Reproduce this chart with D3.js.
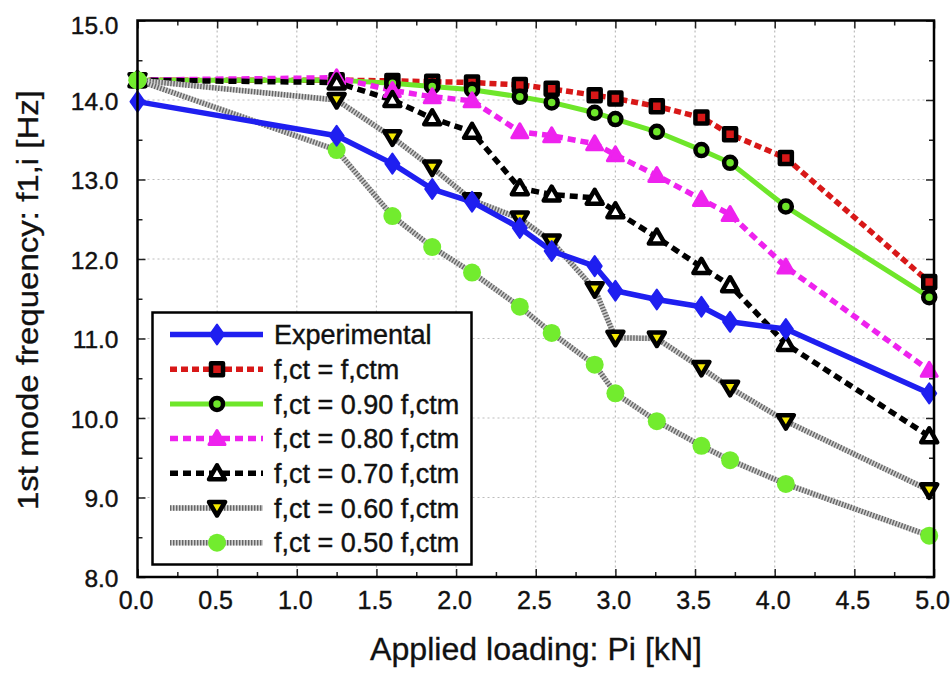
<!DOCTYPE html>
<html><head><meta charset="utf-8">
<script src="https://cdn.jsdelivr.net/npm/d3@7"></script>
<style>
html,body{margin:0;padding:0;background:#fff;}
svg{display:block;font-family:"Liberation Sans",Arial,Helvetica,sans-serif;}
</style></head>
<body>
<svg id="chart" width="952" height="673"></svg>
<script>
// ---- data ----
const loads = [0, 1.25, 1.6, 1.85, 2.1, 2.4, 2.6, 2.87, 3.0, 3.26, 3.54, 3.72, 4.07, 4.97];
const experimental = [13.98, 13.55, 13.2, 12.88, 12.72, 12.39, 12.1, 11.91, 11.6, 11.49, 11.4, 11.21, 11.12, 10.31];
const fct100 = [14.25, 14.25, 14.24, 14.23, 14.22, 14.19, 14.14, 14.06, 14.02, 13.92, 13.78, 13.57, 13.27, 11.71];
const fct090 = [14.25, 14.25, 14.21, 14.17, 14.13, 14.04, 13.97, 13.84, 13.76, 13.6, 13.37, 13.21, 12.66, 11.52];
const fct080 = [14.25, 14.28, 14.12, 14.04, 13.99, 13.6, 13.55, 13.45, 13.31, 13.05, 12.75, 12.56, 11.9, 10.6];
const fct070 = [14.25, 14.22, 14.0, 13.77, 13.6, 12.89, 12.81, 12.77, 12.6, 12.27, 11.9, 11.67, 10.93, 9.77];
const fct060 = [14.25, 14.0, 13.53, 13.15, 12.74, 12.51, 12.22, 11.62, 11.01, 11.0, 10.63, 10.38, 9.96, 9.09];
const fct050 = [14.25, 13.37, 12.54, 12.15, 11.83, 11.4, 11.07, 10.67, 10.31, 9.96, 9.65, 9.47, 9.17, 8.52];
const seriesNames = ["Experimental", "f,ct = f,ctm", "f,ct = 0.90 f,ctm", "f,ct = 0.80 f,ctm",
                     "f,ct = 0.70 f,ctm", "f,ct = 0.60 f,ctm", "f,ct = 0.50 f,ctm"];
const xTickValues = [0, 0.5, 1, 1.5, 2, 2.5, 3, 3.5, 4, 4.5, 5];
const yTickValues = [8, 9, 10, 11, 12, 13, 14, 15];
const xTitle = "Applied loading: Pi [kN]";
const yTitle = "1st mode frequency: f1,i [Hz]";

// ---- styles ----
const styles = [
  {line:"#1f1ff0", width:5.5, dash:null, marker:"diamond", mFill:"#1f1ff0", mStroke:"#1f1ff0", mSW:2},
  {line:"#d81818", width:5.5, dash:"7,4", marker:"square", mFill:"#d81818", mStroke:"#000", mSW:4.5},
  {line:"#6ee62a", width:5, dash:null, marker:"circle", mFill:"#6ee62a", mStroke:"#000", mSW:4.5},
  {line:"#ee22ee", width:5.5, dash:"8,5", marker:"tri", mFill:"#ee22ee", mStroke:"#ee22ee", mSW:3},
  {line:"#000", width:5.5, dash:"8,5", marker:"tri", mFill:"#fff", mStroke:"#000", mSW:4.5},
  {line:"hatch", width:5.5, dash:null, marker:"tridown", mFill:"#f4e800", mStroke:"#000", mSW:4.5},
  {line:"hatch", width:5.5, dash:null, marker:"dot", mFill:"#72ec2e", mStroke:"none", mSW:0}
];
const seriesValues = [experimental, fct100, fct090, fct080, fct070, fct060, fct050];

const svg = d3.select("#chart");
const L = 137.5, R = 934, T = 20.5, B = 577;
const x = d3.scaleLinear().domain([0, 5]).range([L, R]);
const y = d3.scaleLinear().domain([8, 15]).range([B, T]);

// grid
const grid = svg.append("g");
grid.selectAll("line.gx").data(xTickValues.slice(1, -1)).join("line")
  .attr("x1", d => x(d)).attr("x2", d => x(d)).attr("y1", T).attr("y2", B)
  .attr("stroke", "#bdbdbd").attr("stroke-width", 1.2).attr("stroke-dasharray", "2,3");
grid.selectAll("line.gy").data(yTickValues.slice(1, -1)).join("line")
  .attr("y1", d => y(d)).attr("y2", d => y(d)).attr("x1", L).attr("x2", R)
  .attr("stroke", "#bdbdbd").attr("stroke-width", 1.2).attr("stroke-dasharray", "2,3");

// axes ticks (inward) on four sides
const xMinor = d3.range(0, 5.001, 0.25).filter(v => Math.abs(v*2 - Math.round(v*2)) > 1e-6);
const yMinor = d3.range(8.5, 15, 1);
function fmt(v){ return d3.format(".1f")(v); }
const axB = svg.append("g").attr("transform", `translate(0,${B})`)
  .call(d3.axisBottom(x).tickValues(xTickValues).tickSizeInner(-8).tickSizeOuter(0).tickPadding(14).tickFormat(fmt));
const axBm = svg.append("g").attr("transform", `translate(0,${B})`)
  .call(d3.axisBottom(x).tickValues(xMinor).tickSizeInner(-5).tickSizeOuter(0).tickFormat(""));
const axT = svg.append("g").attr("transform", `translate(0,${T})`)
  .call(d3.axisTop(x).tickValues(xTickValues).tickSizeInner(-8).tickSizeOuter(0).tickFormat(""));
const axTm = svg.append("g").attr("transform", `translate(0,${T})`)
  .call(d3.axisTop(x).tickValues(xMinor).tickSizeInner(-5).tickSizeOuter(0).tickFormat(""));
const axL = svg.append("g").attr("transform", `translate(${L},0)`)
  .call(d3.axisLeft(y).tickValues(yTickValues).tickSizeInner(-8).tickSizeOuter(0).tickPadding(19).tickFormat(fmt));
const axLm = svg.append("g").attr("transform", `translate(${L},0)`)
  .call(d3.axisLeft(y).tickValues(yMinor).tickSizeInner(-5).tickSizeOuter(0).tickFormat(""));
const axR = svg.append("g").attr("transform", `translate(${R},0)`)
  .call(d3.axisRight(y).tickValues(yTickValues).tickSizeInner(-8).tickSizeOuter(0).tickFormat(""));
const axRm = svg.append("g").attr("transform", `translate(${R},0)`)
  .call(d3.axisRight(y).tickValues(yMinor).tickSizeInner(-5).tickSizeOuter(0).tickFormat(""));
[axB, axBm, axT, axTm, axL, axLm, axR, axRm].forEach(a => {
  a.select(".domain").remove();
  a.selectAll(".tick line").attr("stroke", "#222").attr("stroke-width", 1.5);
});
axB.selectAll(".tick text").attr("font-size", 25).attr("fill", "#111")
  .attr("stroke", "#111").attr("stroke-width", 0.4)
  .attr("font-family", "Liberation Sans, Arial, sans-serif").attr("dx", -2);
axL.selectAll(".tick text").attr("font-size", 24.5).attr("fill", "#111")
  .attr("stroke", "#111").attr("stroke-width", 0.4)
  .attr("font-family", "Liberation Sans, Arial, sans-serif").attr("dy", "0.38em");
axL.selectAll(".tick text").filter(d => d === 15).attr("dy", "0.52em");

// axis titles
svg.append("text").attr("x", 536).attr("y", 660).attr("text-anchor", "middle")
  .attr("font-size", 31).attr("fill", "#111").attr("stroke", "#111").attr("stroke-width", 0.3)
  .attr("textLength", 332).attr("lengthAdjust", "spacingAndGlyphs")
  .text(xTitle);
svg.append("text").attr("transform", "translate(38,300) rotate(-90)").attr("text-anchor", "middle")
  .attr("font-size", 29).attr("fill", "#111").attr("stroke", "#111").attr("stroke-width", 0.3)
  .attr("textLength", 420).attr("lengthAdjust", "spacingAndGlyphs")
  .text(yTitle);

// markers
function markerPath(type){
  const p = d3.path();
  if (type === "diamond"){ p.moveTo(0,-10); p.lineTo(7,0); p.lineTo(0,10); p.lineTo(-7,0); p.closePath(); }
  else if (type === "square"){ p.rect(-6,-6,12,12); }
  else if (type === "circle"){ p.arc(0,0,6,0,2*Math.PI); }
  else if (type === "tri"){ p.moveTo(0,-8); p.lineTo(8,6); p.lineTo(-8,6); p.closePath(); }
  else if (type === "tridown"){ p.moveTo(0,7.5); p.lineTo(8,-6); p.lineTo(-8,-6); p.closePath(); }
  else if (type === "dot"){ p.arc(0,0,9,0,2*Math.PI); }
  return p.toString();
}

const lineGen = d3.line().x(d => x(d[0])).y(d => y(d[1]));
function drawLine(g, pts, st){
  if (st.line === "hatch"){
    g.append("path").attr("d", lineGen(pts)).attr("fill", "none")
      .attr("stroke", "#cfcfcf").attr("stroke-width", st.width);
    g.append("path").attr("d", lineGen(pts)).attr("fill", "none")
      .attr("stroke", "#666").attr("stroke-width", st.width).attr("stroke-dasharray", "1.4,1.6");
  } else {
    g.append("path").attr("d", lineGen(pts)).attr("fill", "none")
      .attr("stroke", st.line).attr("stroke-width", st.width)
      .attr("stroke-dasharray", st.dash).attr("stroke-linejoin", "round");
  }
}
function drawMarkers(g, pts, st){
  g.selectAll(null).data(pts).join("path")
    .attr("transform", d => `translate(${x(d[0])},${y(d[1])})`)
    .attr("d", markerPath(st.marker))
    .attr("fill", st.mFill).attr("stroke", st.mStroke).attr("stroke-width", st.mSW)
    .attr("stroke-linejoin", "round");
}

const plot = svg.append("g");
const lineOrder = [1, 2, 3, 4, 5, 6, 0];
const markerOrder = [1, 2, 3, 4, 5, 6, 0];
lineOrder.forEach(i => {
  const pts = loads.map((l, k) => [l, seriesValues[i][k]]);
  drawLine(plot.append("g"), pts, styles[i]);
});
markerOrder.forEach(i => {
  const pts = loads.map((l, k) => [l, seriesValues[i][k]]);
  drawMarkers(plot.append("g"), pts, styles[i]);
});
// green dot at origin appears on top
drawMarkers(plot.append("g"), [[loads[0], fct050[0]]], styles[6]);

// frame
svg.append("rect").attr("x", L).attr("y", T).attr("width", R - L).attr("height", B - T)
  .attr("fill", "none").attr("stroke", "#000").attr("stroke-width", 2.5);

// legend
const lg = svg.append("g");
lg.append("rect").attr("x", 152.5).attr("y", 312.5).attr("width", 319).attr("height", 252)
  .attr("fill", "#fff").attr("stroke", "#000").attr("stroke-width", 2.5);
seriesNames.forEach((name, i) => {
  const cy = 334.5 + i * 34.7;
  const st = styles[i];
  const g = lg.append("g");
  const lx = d3.scaleLinear().domain([0, 1]).range([170, 263]);
  const p = d3.path(); p.moveTo(lx(0), cy); p.lineTo(lx(1), cy);
  if (st.line === "hatch"){
    g.append("path").attr("d", p.toString()).attr("stroke", "#cfcfcf").attr("stroke-width", st.width);
    g.append("path").attr("d", p.toString()).attr("stroke", "#666").attr("stroke-width", st.width).attr("stroke-dasharray", "1.4,1.6");
  } else {
    g.append("path").attr("d", p.toString()).attr("stroke", st.line).attr("stroke-width", st.width)
      .attr("stroke-dasharray", st.dash);
  }
  g.append("path").attr("transform", `translate(217,${cy})`).attr("d", markerPath(st.marker))
    .attr("fill", st.mFill).attr("stroke", st.mStroke).attr("stroke-width", st.mSW)
    .attr("stroke-linejoin", "round");
  g.append("text").attr("x", 274).attr("y", cy).attr("dy", "0.36em")
    .attr("font-size", 27).attr("fill", "#111").attr("stroke", "#111").attr("stroke-width", 0.4)
    .text(name);
});
</script>
</body></html>
